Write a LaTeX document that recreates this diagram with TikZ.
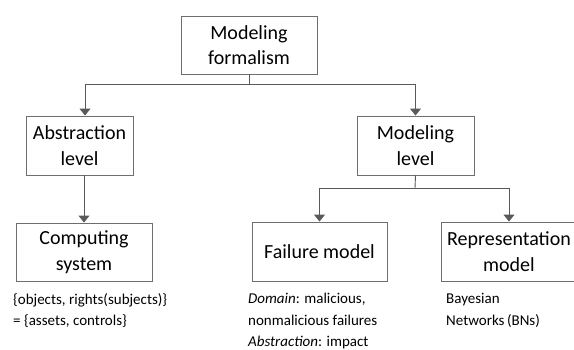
\documentclass[tikz,border=0pt]{standalone}
\usepackage{fontspec}
\setmainfont{Carlito}
\usetikzlibrary{arrows.meta}
\definecolor{edge}{HTML}{595959}
\definecolor{frame}{HTML}{6E6E6E}
\begin{document}
\begin{tikzpicture}[x=1pt,y=-1pt,
  box/.style={draw=frame,line width=0.9pt,fill=white,align=center,inner sep=0pt,
    font=\fontsize{20}{25.5}\selectfont},
  link/.style={draw=edge,line width=0.9pt},
  arr/.style={link,-{Triangle[width=11pt,length=7pt]}},
  note/.style={anchor=north west,inner sep=0pt,align=left,
    font=\fontsize{15}{21.5}\selectfont}]
\useasboundingbox (0,0) rectangle (574,349);

% boxes
\node[box,minimum width=136pt,minimum height=58pt] (top) at (249,45) {Modeling\\formalism};
\node[box,minimum width=107pt,minimum height=59pt] (abs) at (79.5,145.5) {Abstraction\\level};
\node[box,minimum width=117pt,minimum height=59pt] (modl) at (415.5,145.5) {Modeling\\level};
\node[box,minimum width=136pt,minimum height=58pt] (comp) at (84,252) {Computing\\system};
\node[box,minimum width=135pt,minimum height=59pt] (fail) at (319.5,251.5) {Failure model};
\node[box,minimum width=136pt,minimum height=59pt] (rep) at (509,251.5) {Representation\\model};

% connectors
\coordinate (j1) at (249,84);
\coordinate (j2) at (415,188);
\draw[link] (top.south) -- (j1);
\draw[arr] (j1) -| ([xshift=5.5pt]abs.north);
\draw[arr] (j1) -| (modl.north);
\draw[arr] (abs.south -| comp.north) -- (comp.north);
\draw[link] (modl.south) -- (j2);
\draw[arr] (j2) -| (fail.north);
\draw[arr] (j2) -| (rep.north);

% annotations
\node[note] (compnote) at (13,293) {\{objects, rights(subjects)\}\\= \{assets, controls\}};
\node[note] (failnote) at (248,293) {\textit{Domain}: malicious,\\nonmalicious failures\\\textit{Abstraction}: impact};
\node[note] (repnote) at (446,293) {Bayesian\\Networks\,(BNs)};
\end{tikzpicture}
\end{document}
